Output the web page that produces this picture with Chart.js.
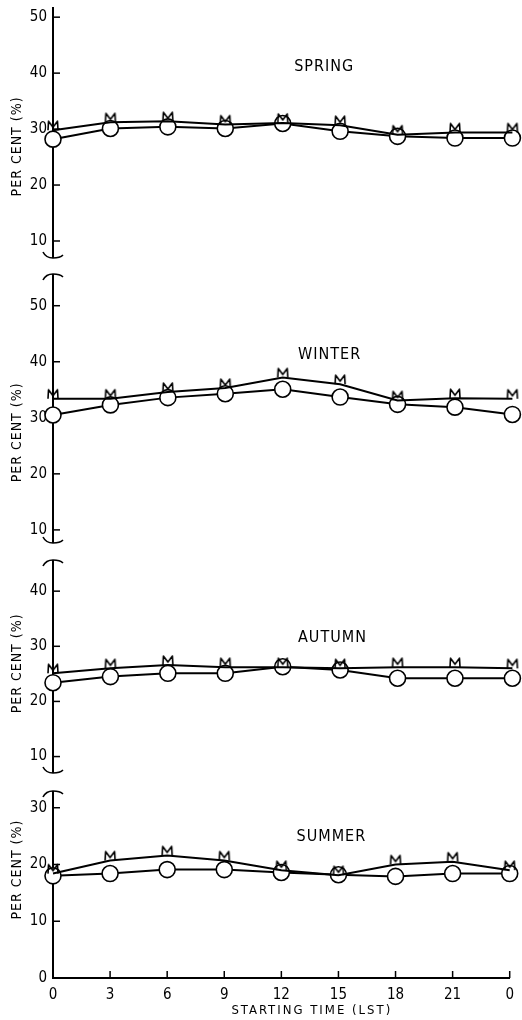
<!DOCTYPE html>
<html>
<head>
<meta charset="utf-8">
<script src="https://cdn.jsdelivr.net/npm/chart.js@4.4.0/dist/chart.umd.min.js"></script>
<style>
  html, body { margin: 0; padding: 0; background: #fff; }
  #wrap { position: relative; width: 522px; height: 1020px; overflow: hidden; background: #fff; }
  #wrap canvas { position: absolute; left: 0; }
</style>
</head>
<body>
<div id="wrap"></div>
<script>
// starting times (LST); 24 is the closing midnight, labelled "0"
const hours = [0, 3, 6, 9, 12, 15, 18, 21, 24];

// "M" series and circle series for each season (per cent)
const springM = [29.8, 31.2, 31.4, 30.8, 31.1, 30.7, 29.0, 29.4, 29.4];
const springO = [28.2, 30.1, 30.4, 30.1, 31.0, 29.6, 28.7, 28.4, 28.4];
const winterM = [33.4, 33.4, 34.6, 35.3, 37.2, 36.0, 33.1, 33.5, 33.4];
const winterO = [30.5, 32.3, 33.6, 34.3, 35.1, 33.7, 32.4, 31.9, 30.6];
const autumnM = [25.1, 26.0, 26.6, 26.2, 26.2, 26.0, 26.2, 26.2, 26.0];
const autumnO = [23.4, 24.5, 25.1, 25.1, 26.3, 25.7, 24.2, 24.2, 24.2];
const summerM = [18.4, 20.7, 21.6, 20.7, 19.0, 18.1, 20.0, 20.5, 19.0];
const summerO = [18.0, 18.4, 19.1, 19.1, 18.6, 18.2, 17.9, 18.4, 18.4];

// tick labels
const springTicks = [10, 20, 30, 40, 50];
const winterTicks = [10, 20, 30, 40, 50];
const autumnTicks = [10, 20, 30, 40];
const summerTicks = [0, 10, 20, 30];
const hourTicks = [0, 3, 6, 9, 12, 15, 18, 21, 24];

const FONT = "'DejaVu Sans Condensed', 'DejaVu Sans', sans-serif";
const pad = 12;

// panel layout: pixel extent of each plot strip and the value range it shows
const panels = [
  { name: 'SPRING', m: springM, o: springO, ticks: springTicks, top: 5, bottom: 260, min: 7.14, max: 51.64,
    labelAt: [12.6, 41.2], titleAt: 26.9, breakTop: false, breakBottom: true },
  { name: 'WINTER', m: winterM, o: winterO, ticks: winterTicks, top: 272, bottom: 545, min: 7.84, max: 55.48,
    labelAt: [12.8, 41.3], titleAt: 27.4, breakTop: true, breakBottom: true },
  { name: 'AUTUMN', m: autumnM, o: autumnO, ticks: autumnTicks, top: 558, bottom: 775, min: 7.2, max: 45.47,
    labelAt: [12.8, 31.5], titleAt: 26.9, breakTop: true, breakBottom: true },
  { name: 'SUMMER', m: summerM, o: summerO, ticks: summerTicks, top: 789, bottom: 978, min: 0, max: 32.77,
    labelAt: [12.8, 24.8], titleAt: 19.1, breakTop: true, breakBottom: false }
];

// the "M" marker: a small letter M standing on the data point
function makeM() {
  const c = document.createElement('canvas');
  c.width = 14; c.height = 22;
  const g = c.getContext('2d');
  g.strokeStyle = '#000';
  g.lineWidth = 1.6;
  g.lineJoin = 'round';
  g.beginPath();
  g.moveTo(2, 11); g.lineTo(2.5, 2); g.lineTo(7, 8); g.lineTo(11.5, 2); g.lineTo(12, 11);
  g.stroke();
  return c;
}
const mMark = makeM();

const decor = {
  id: 'decor',
  beforeDatasetsDraw(chart, args, o) {
    const { ctx, chartArea: a, scales: { x, y } } = chart;
    ctx.save();
    ctx.strokeStyle = '#000';
    ctx.lineWidth = 1.5;
    y.ticks.forEach(t => {
      const py = y.getPixelForValue(t.value);
      ctx.beginPath(); ctx.moveTo(a.left, py); ctx.lineTo(a.left + 7, py); ctx.stroke();
    });
    if (o.xAxis) {
      x.ticks.forEach(t => {
        const px = x.getPixelForValue(t.value);
        ctx.beginPath(); ctx.moveTo(px, a.bottom); ctx.lineTo(px, a.bottom - 7); ctx.stroke();
      });
    }
    ctx.restore();
  },
  afterDraw(chart, args, o) {
    const { ctx, chartArea: a, scales: { x, y } } = chart;
    const L = a.left;
    ctx.save();
    ctx.strokeStyle = '#000';
    ctx.fillStyle = '#000';
    ctx.lineWidth = 1.6;
    if (o.breakBottom) {
      const B = a.bottom;
      ctx.beginPath();
      ctx.moveTo(L - 10, B - 5);
      ctx.quadraticCurveTo(L - 7, B + 1, L, B + 1);
      ctx.quadraticCurveTo(L + 7, B + 1, L + 10, B - 2);
      ctx.stroke();
    }
    if (o.breakTop) {
      const T = a.top;
      ctx.beginPath();
      ctx.moveTo(L - 10, T + 5);
      ctx.quadraticCurveTo(L - 7, T - 1, L, T - 1);
      ctx.quadraticCurveTo(L + 7, T - 1, L + 10, T + 2);
      ctx.stroke();
    }
    ctx.letterSpacing = '1px';
    ctx.font = '16px ' + FONT;
    ctx.textAlign = 'left';
    ctx.textBaseline = 'middle';
    ctx.fillText(o.name, x.getPixelForValue(o.labelAt[0]), y.getPixelForValue(o.labelAt[1]));

    ctx.font = '14px ' + FONT;
    ctx.textAlign = 'center';
    ctx.save();
    ctx.translate(17, y.getPixelForValue(o.titleAt));
    ctx.rotate(-Math.PI / 2);
    ctx.fillText('PER CENT (%)', 0, 0);
    ctx.restore();

    if (o.xAxis) {
      ctx.letterSpacing = '2px';
      ctx.font = '13px ' + FONT;
      ctx.fillText('STARTING TIME (LST)', x.getPixelForValue(13.6), a.bottom + 33);
    }
    ctx.restore();
  }
};

const wrap = document.getElementById('wrap');

panels.forEach((p, i) => {
  const last = i === panels.length - 1;
  const canvas = document.createElement('canvas');
  const cTop = p.top - pad;
  const cH = last ? 1020 - cTop : (p.bottom - p.top + 2 * pad);
  canvas.width = 522;
  canvas.height = cH;
  canvas.style.top = cTop + 'px';
  canvas.style.width = '522px';
  canvas.style.height = cH + 'px';
  wrap.appendChild(canvas);

  new Chart(canvas.getContext('2d'), {
    type: 'line',
    data: {
      datasets: [{
        label: 'M',
        data: hours.map((h, k) => ({ x: h, y: p.m[k] })),
        borderColor: '#000',
        borderWidth: 2,
        pointStyle: mMark,
        pointRadius: 6,
        clip: false
      }, {
        label: 'O',
        data: hours.map((h, k) => ({ x: h, y: p.o[k] })),
        borderColor: '#000',
        borderWidth: 2,
        pointStyle: 'circle',
        pointRadius: 8,
        pointBackgroundColor: '#fff',
        pointBorderColor: '#000',
        pointBorderWidth: 1.6,
        clip: false
      }]
    },
    options: {
      responsive: false,
      animation: false,
      devicePixelRatio: 1,
      layout: { padding: { top: pad, bottom: last ? 0 : pad, left: 0, right: 8 } },
      plugins: {
        legend: { display: false },
        tooltip: { enabled: false },
        decor: { name: p.name, labelAt: p.labelAt, titleAt: p.titleAt,
                 breakTop: p.breakTop, breakBottom: p.breakBottom, xAxis: last }
      },
      scales: {
        x: {
          type: 'linear',
          min: 0,
          max: 24,
          display: last,
          afterFit: s => { s.height = last ? 42 : 0; },
          afterBuildTicks: s => { s.ticks = hourTicks.map(v => ({ value: v })); },
          grid: { display: false, drawTicks: false },
          border: { display: true, color: '#000', width: 2 },
          ticks: {
            color: '#000',
            padding: 8,
            maxRotation: 0,
            font: { family: FONT, size: 15 },
            callback: v => (v === 24 ? '0' : String(v))
          }
        },
        y: {
          min: p.min,
          max: p.max,
          afterFit: s => { s.width = 53; },
          afterBuildTicks: s => { s.ticks = p.ticks.map(v => ({ value: v })); },
          grid: { display: false, drawTicks: false },
          border: { display: true, color: '#000', width: 2 },
          ticks: {
            color: '#000',
            padding: 6,
            font: { family: FONT, size: 15 }
          }
        }
      }
    },
    plugins: [decor]
  });
});
</script>
</body>
</html>
